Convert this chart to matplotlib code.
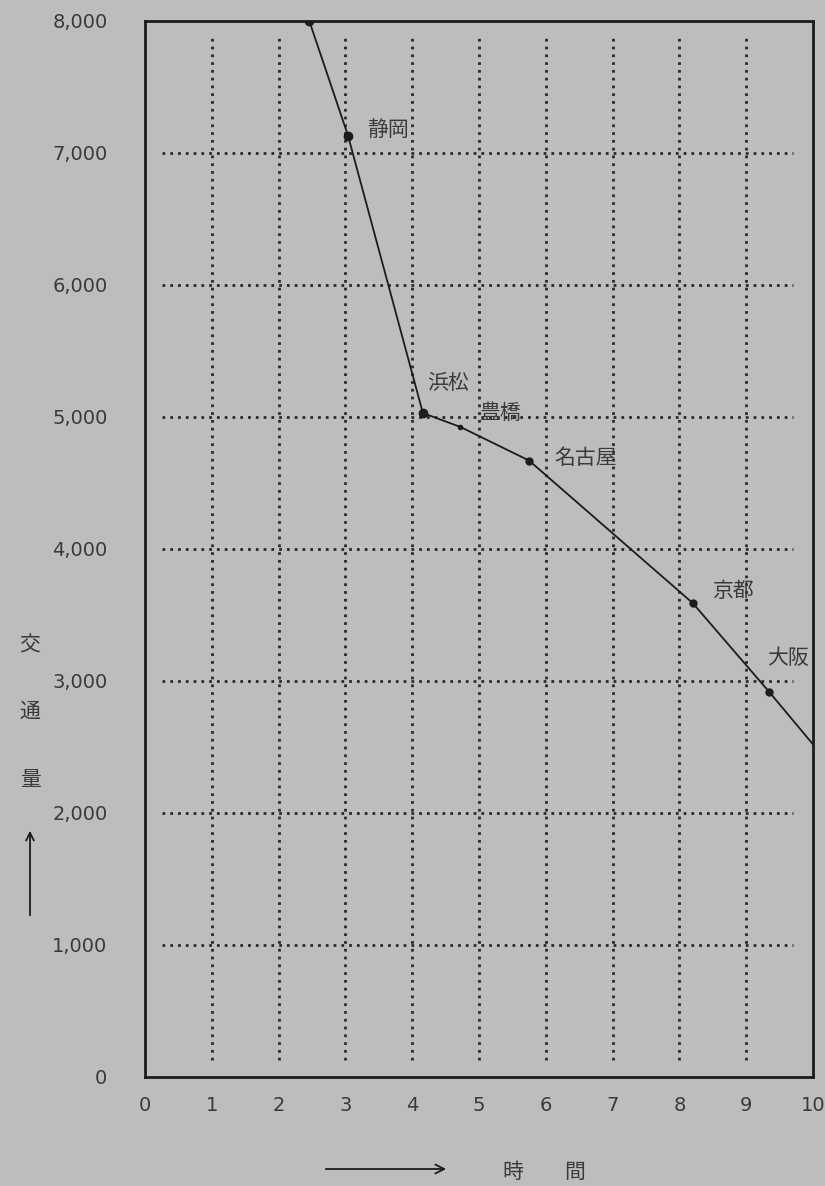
import matplotlib.pyplot as plt
import numpy as np

plt.rcParams['font.family'] = ['Noto Sans CJK JP', 'DejaVu Sans']

# data
stations = ['', '静岡', '浜松', '豊橋', '名古屋', '京都', '大阪', '']
hours = [2.46, 3.04, 4.16, 4.72, 5.75, 8.2, 9.34, 10.0]
traffic = [8000, 7130, 5030, 4925, 4670, 3590, 2920, 2520]
marker_size = [6, 6, 6, 3, 5, 5, 5, 0]
# label offsets (points) from each station dot
label_dx = [0, 14, 3, 14, 18, 14, -1, 0]
label_dy = [0, 4, 22, 10, 2, 9, 24, 0]

x_ticks = list(range(0, 11))
y_ticks = list(range(0, 8001, 1000))
y_ticklabels = ['0', '1,000', '2,000', '3,000', '4,000', '5,000', '6,000', '7,000', '8,000']

bg = '#bdbdbd'
ink = '#1c1c1c'
txt = '#3a3a3a'

W, H = 825, 1186
fig = plt.figure(figsize=(W / 100, H / 100), dpi=100, facecolor=bg)
ax = fig.add_axes([145 / W, 1 - 1077 / H, (813 - 145) / W, (1077 - 21) / H])
ax.set_facecolor(bg)
ax.set_xlim(0, 10)
ax.set_ylim(0, 8000)

# dotted grid, drawn a little short of the frame like the original
for yv in y_ticks[1:-1]:
    ax.hlines(yv, 0.25, 9.7, colors='#2a2a2a', linestyles=(0, (1, 1.8)), linewidth=2)
for xv in x_ticks[1:-1]:
    ax.vlines(xv, 130, 7900, colors='#2a2a2a', linestyles=(0, (1, 1.8)), linewidth=2)

ax.plot(hours, traffic, color=ink, linewidth=1.3, zorder=3)
for h, t, s in zip(hours, traffic, marker_size):
    if s > 0:
        ax.plot(h, t, 'o', color=ink, markersize=s, zorder=4)

for name, h, t, dx, dy in zip(stations, hours, traffic, label_dx, label_dy):
    if name:
        ax.annotate(name, (h, t), xytext=(dx, dy), textcoords='offset points',
                    ha='left', va='center', fontsize=15, color=txt)

for sp in ax.spines.values():
    sp.set_color(ink)
    sp.set_linewidth(2)

ax.set_xticks(x_ticks)
ax.set_xticklabels([str(v) for v in x_ticks], fontsize=14, color=txt, family='DejaVu Sans')
ax.set_yticks(y_ticks)
ax.set_yticklabels(y_ticklabels, fontsize=14, color=txt, family='DejaVu Sans')
ax.tick_params(axis='y', length=0, pad=27)
ax.tick_params(axis='x', length=0, pad=14)

# y axis title, written vertically with an arrow
for ch, yp in zip(['交', '通', '量'], [645, 712, 780]):
    fig.text(30 / W, 1 - yp / H, ch, ha='center', va='center', fontsize=15, color=txt)
fig.patches.append(plt.matplotlib.patches.FancyArrowPatch(
    (30 / W, 1 - 918 / H), (30 / W, 1 - 828 / H), transform=fig.transFigure,
    arrowstyle='->', mutation_scale=14, color=ink, linewidth=1.3))

# x axis title with arrow
fig.patches.append(plt.matplotlib.patches.FancyArrowPatch(
    (323 / W, 1 - 1169 / H), (449 / W, 1 - 1169 / H), transform=fig.transFigure,
    arrowstyle='->', mutation_scale=16, color=ink, linewidth=1.3))
fig.text(513 / W, 1 - 1172 / H, '時', ha='center', va='center', fontsize=15, color=txt)
fig.text(575 / W, 1 - 1172 / H, '間', ha='center', va='center', fontsize=15, color=txt)

fig.savefig('out.png', dpi=100, facecolor=bg)
